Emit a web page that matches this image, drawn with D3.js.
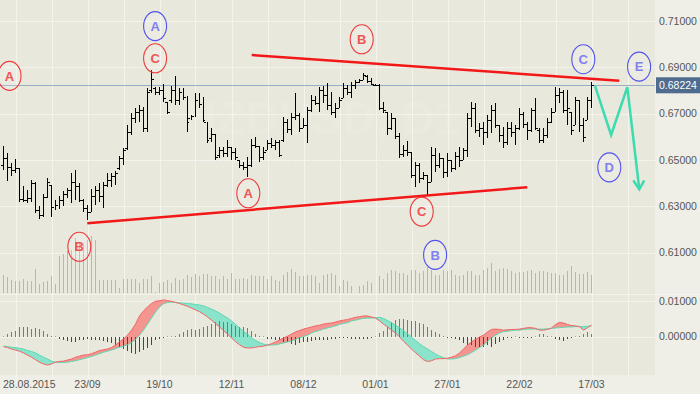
<!DOCTYPE html>
<html>
<head>
<meta charset="utf-8">
<script src="https://cdn.jsdelivr.net/npm/d3@7"></script>
<style>
  body { margin: 0; background: #f0efe7; }
  svg text { font-family: "Liberation Sans", Arial, sans-serif; }
</style>
</head>
<body>
<svg id="chart" width="700" height="394"></svg>
<script>
// NZDUSD daily, 25.08.2015 - 17.03.2016 (one entry per trading day)
var opens = [
  .6478,.6508,.6470,.6457,.6465,.6331,.6327,.6335,.6401,.6284,
  .6262,.6340,.6392,.6297,.6306,.6327,.6353,.6370,.6405,.6388,
  .6327,.6292,.6275,.6344,.6370,.6344,.6392,.6414,.6431,.6465,
  .6508,.6551,.6620,.6681,.6707,.6716,.6638,.6802,.6810,.6793,
  .6802,.6750,.6759,.6802,.6759,.6793,.6772,.6681,.6690,.6759,
  .6742,.6664,.6594,.6612,.6521,.6543,.6530,.6556,.6534,.6500,
  .6478,.6470,.6478,.6565,.6560,.6513,.6543,.6573,.6565,.6577,
  .6586,.6664,.6634,.6686,.6694,.6638,.6651,.6716,.6759,.6746,
  .6802,.6780,.6737,.6707,.6724,.6767,.6810,.6793,.6824,.6836,
  .6845,.6862,.6841,.6824,.6824,.6724,.6707,.6638,.6681,.6603,
  .6526,.6543,.6534,.6435,.6478,.6422,.6435,.6405,.6521,.6478,
  .6508,.6448,.6500,.6465,.6517,.6500,.6543,.6681,.6724,.6629,
  .6638,.6620,.6673,.6716,.6651,.6608,.6577,.6638,.6620,.6638,
  .6699,.6656,.6629,.6716,.6629,.6586,.6608,.6664,.6707,.6780,
  .6793,.6716,.6707,.6651,.6759,.6651,.6673,.6759
];
var highs = [
  .6560,.6530,.6487,.6504,.6465,.6388,.6370,.6414,.6405,.6301,
  .6353,.6422,.6392,.6327,.6344,.6366,.6379,.6444,.6457,.6401,
  .6331,.6306,.6375,.6388,.6401,.6405,.6444,.6444,.6453,.6517,
  .6551,.6651,.6703,.6724,.6737,.6729,.6810,.6888,.6815,.6815,
  .6828,.6750,.6819,.6862,.6810,.6810,.6776,.6694,.6789,.6789,
  .6772,.6664,.6638,.6612,.6556,.6556,.6586,.6556,.6551,.6500,
  .6491,.6513,.6590,.6599,.6560,.6556,.6586,.6594,.6586,.6586,
  .6686,.6677,.6703,.6789,.6703,.6681,.6729,.6780,.6776,.6815,
  .6819,.6832,.6793,.6746,.6772,.6832,.6824,.6836,.6845,.6849,
  .6875,.6866,.6853,.6828,.6828,.6750,.6707,.6703,.6681,.6616,
  .6565,.6582,.6534,.6491,.6487,.6448,.6435,.6556,.6551,.6530,
  .6508,.6530,.6500,.6534,.6556,.6551,.6703,.6750,.6746,.6660,
  .6664,.6694,.6737,.6746,.6651,.6643,.6664,.6664,.6651,.6724,
  .6707,.6664,.6724,.6767,.6638,.6638,.6681,.6724,.6815,.6810,
  .6802,.6802,.6707,.6772,.6759,.6681,.6772,.6836
];
var lows = [
  .6457,.6410,.6431,.6444,.6318,.6318,.6314,.6318,.6271,.6245,
  .6254,.6335,.6254,.6284,.6288,.6301,.6335,.6314,.6327,.6318,
  .6275,.6241,.6275,.6306,.6318,.6292,.6384,.6384,.6392,.6457,
  .6478,.6543,.6608,.6660,.6664,.6620,.6620,.6789,.6780,.6780,
  .6750,.6699,.6746,.6737,.6737,.6759,.6620,.6673,.6686,.6724,
  .6664,.6573,.6577,.6500,.6508,.6513,.6513,.6500,.6500,.6465,
  .6457,.6427,.6470,.6551,.6491,.6500,.6543,.6551,.6543,.6513,
  .6577,.6616,.6608,.6673,.6620,.6638,.6573,.6707,.6737,.6707,
  .6746,.6716,.6694,.6681,.6724,.6767,.6780,.6767,.6806,.6832,
  .6845,.6832,.6824,.6819,.6716,.6703,.6608,.6629,.6590,.6508,
  .6513,.6517,.6422,.6384,.6401,.6414,.6349,.6405,.6448,.6465,
  .6422,.6427,.6448,.6457,.6470,.6500,.6513,.6643,.6616,.6599,
  .6565,.6594,.6616,.6638,.6577,.6551,.6565,.6599,.6565,.6629,
  .6638,.6586,.6620,.6629,.6573,.6573,.6594,.6660,.6707,.6746,
  .6703,.6651,.6608,.6651,.6620,.6577,.6673,.6724
];
var closes = [
  .6508,.6470,.6457,.6465,.6331,.6327,.6335,.6401,.6284,.6262,
  .6340,.6405,.6297,.6306,.6327,.6353,.6370,.6405,.6388,.6327,
  .6292,.6275,.6344,.6370,.6344,.6392,.6414,.6431,.6444,.6508,
  .6543,.6620,.6681,.6707,.6716,.6638,.6793,.6849,.6793,.6802,
  .6767,.6707,.6802,.6759,.6793,.6772,.6664,.6690,.6759,.6742,
  .6673,.6586,.6612,.6513,.6543,.6530,.6556,.6534,.6513,.6478,
  .6470,.6478,.6565,.6560,.6513,.6534,.6573,.6565,.6577,.6521,
  .6664,.6634,.6686,.6694,.6638,.6651,.6716,.6759,.6746,.6802,
  .6780,.6737,.6707,.6724,.6759,.6810,.6793,.6824,.6836,.6845,
  .6866,.6841,.6828,.6824,.6724,.6716,.6638,.6681,.6603,.6526,
  .6543,.6534,.6435,.6478,.6422,.6435,.6405,.6521,.6478,.6508,
  .6448,.6500,.6465,.6517,.6500,.6543,.6681,.6724,.6629,.6638,
  .6620,.6673,.6716,.6651,.6608,.6577,.6638,.6620,.6638,.6699,
  .6656,.6629,.6716,.6638,.6586,.6608,.6664,.6707,.6780,.6793,
  .6716,.6724,.6629,.6759,.6651,.6599,.6759,.6822
];
var volumes = [
  177,160,133,117,117,140,117,123,243,93,
  107,123,173,93,367,393,417,430,550,507,
  500,533,573,527,133,133,133,133,127,50,
  140,140,140,140,100,140,140,173,7,100,
  107,133,100,150,133,140,183,160,193,167,
  193,193,167,173,140,167,140,200,140,140,
  150,140,183,173,167,167,140,167,133,123,
  183,207,240,207,167,167,183,183,167,100,
  183,193,200,177,73,127,117,67,3,67,
  83,117,100,3,167,143,200,227,217,200,
  200,183,227,233,200,217,260,227,183,183,
  227,217,233,183,167,183,217,217,183,183,
  233,250,300,217,240,250,240,217,200,207,
  207,217,227,200,217,217,207,200,200,183,
  183,217,273,207,193,193,207,183
];
var macdLine = [
  -0.0028,-0.0031,-0.0035,-0.0038,-0.0041,-0.0046,-0.0052,-0.0058,-0.0065,-0.0072,
  -0.0077,-0.0080,-0.0077,-0.0072,-0.0070,-0.0069,-0.0066,-0.0063,-0.0058,-0.0055,
  -0.0052,-0.0051,-0.0048,-0.0044,-0.0039,-0.0037,-0.0035,-0.0031,-0.0024,-0.0015,
  -0.0007,0.0004,0.0018,0.0035,0.0058,0.0072,0.0083,0.0093,0.0099,0.0101,
  0.0103,0.0101,0.0099,0.0096,0.0093,0.0089,0.0085,0.0080,0.0075,0.0070,
  0.0063,0.0055,0.0046,0.0037,0.0027,0.0017,0.0007,-0.0004,-0.0014,-0.0023,
  -0.0030,-0.0032,-0.0032,-0.0030,-0.0028,-0.0027,-0.0024,-0.0020,-0.0015,-0.0010,
  -0.0004,0.0001,0.0007,0.0013,0.0017,0.0021,0.0024,0.0027,0.0030,0.0032,
  0.0035,0.0037,0.0038,0.0041,0.0044,0.0046,0.0048,0.0051,0.0054,0.0056,
  0.0058,0.0058,0.0055,0.0052,0.0044,0.0035,0.0027,0.0018,0.0010,-0.0001,
  -0.0013,-0.0024,-0.0035,-0.0045,-0.0055,-0.0065,-0.0070,-0.0068,-0.0063,-0.0062,
  -0.0062,-0.0061,-0.0058,-0.0054,-0.0046,-0.0035,-0.0024,-0.0015,-0.0008,-0.0001,
  0.0004,0.0013,0.0020,0.0021,0.0020,0.0018,0.0019,0.0020,0.0020,0.0021,
  0.0023,0.0025,0.0025,0.0023,0.0018,0.0018,0.0020,0.0024,0.0034,0.0040,
  0.0038,0.0034,0.0031,0.0030,0.0028,0.0018,0.0025,0.0032
];
var signalLine = [
  -0.0027,-0.0028,-0.0030,-0.0031,-0.0033,-0.0035,-0.0039,-0.0042,-0.0046,-0.0052,
  -0.0058,-0.0063,-0.0069,-0.0072,-0.0073,-0.0073,-0.0072,-0.0070,-0.0068,-0.0065,
  -0.0062,-0.0059,-0.0056,-0.0052,-0.0048,-0.0044,-0.0041,-0.0038,-0.0034,-0.0030,
  -0.0027,-0.0023,-0.0017,-0.0008,0.0004,0.0018,0.0035,0.0052,0.0069,0.0083,
  0.0092,0.0096,0.0097,0.0096,0.0095,0.0094,0.0093,0.0092,0.0090,0.0089,
  0.0086,0.0082,0.0077,0.0072,0.0066,0.0059,0.0052,0.0044,0.0034,0.0024,
  0.0015,0.0007,-0.0003,-0.0011,-0.0017,-0.0021,-0.0024,-0.0024,-0.0023,-0.0021,
  -0.0018,-0.0015,-0.0013,-0.0008,-0.0004,0.0000,0.0004,0.0010,0.0014,0.0017,
  0.0021,0.0024,0.0027,0.0030,0.0034,0.0037,0.0039,0.0044,0.0046,0.0049,
  0.0051,0.0052,0.0052,0.0053,0.0054,0.0051,0.0045,0.0039,0.0032,0.0025,
  0.0017,0.0008,-0.0001,-0.0011,-0.0020,-0.0028,-0.0035,-0.0042,-0.0049,-0.0055,
  -0.0059,-0.0063,-0.0063,-0.0062,-0.0059,-0.0055,-0.0051,-0.0045,-0.0038,-0.0031,
  -0.0024,-0.0014,-0.0004,0.0004,0.0010,0.0014,0.0015,0.0017,0.0018,0.0018,
  0.0020,0.0021,0.0021,0.0021,0.0021,0.0021,0.0022,0.0023,0.0024,0.0025,
  0.0026,0.0027,0.0027,0.0028,0.0028,0.0028,0.0029,0.0030
];
var histogram = [
  0,0.0006,0.0012,0.0017,0.0026,0.0028,0.0026,0.0022,0.0023,0.0022,
  0.0017,0.0006,0.0002,0,-0.0006,-0.0009,-0.0013,-0.0016,-0.0014,-0.0011,
  -0.0009,-0.0008,-0.0009,-0.0011,-0.0011,-0.0013,-0.0016,-0.0019,-0.0025,-0.0030,
  -0.0035,-0.0041,-0.0047,-0.0049,-0.0044,-0.0039,-0.0032,-0.0025,-0.0011,-0.0006,
  -0.0002,0,0,0.0001,0.0006,0.0012,0.0019,0.0022,0.0019,0.0022,
  0.0026,0.0031,0.0036,0.0040,0.0043,0.0042,0.0040,0.0036,0.0031,0.0028,
  0.0026,0.0025,0.0017,0.0008,0.0003,0,-0.0006,-0.0006,-0.0009,-0.0011,
  -0.0016,-0.0016,-0.0021,-0.0023,-0.0019,-0.0016,-0.0016,-0.0013,-0.0011,-0.0011,
  -0.0011,-0.0009,-0.0008,-0.0006,-0.0004,-0.0004,-0.0004,-0.0006,-0.0006,-0.0006,
  -0.0006,-0.0006,-0.0004,0,0.0009,0.0017,0.0028,0.0040,0.0047,0.0048,
  0.0048,0.0047,0.0045,0.0043,0.0037,0.0034,0.0026,0.0019,0.0012,0.0006,
  0.0002,-0.0001,-0.0004,-0.0006,-0.0011,-0.0019,-0.0025,-0.0025,-0.0030,-0.0030,
  -0.0028,-0.0025,-0.0028,-0.0021,-0.0016,-0.0009,-0.0004,-0.0002,0,-0.0001,
  -0.0001,-0.0002,-0.0004,0,0.0006,0.0006,0.0003,0,-0.0006,-0.0011,
  -0.0013,-0.0006,-0.0002,0,0.0003,0.0008,0.0012,0.0006
];

var priceTicks = [0.71, 0.69, 0.67, 0.65, 0.63, 0.61];
var macdTicks = [0.01, 0];
var dateLabels = ["28.08.2015", "23/09", "19/10", "12/11", "08/12", "01/01", "27/01", "22/02", "17/03"];
var dateLabelIdx = [3, 21, 39, 57, 75, 93, 111, 129, 147];
var lastPrice = 0.68224;

// hand drawn analysis: trend lines, wave labels, forecast path (bar index, price)
var trendLines = [
  [[62.05, 0.6953], [153.95, 0.6842]],
  [[20.95, 0.6227], [130.95, 0.6382]]
];
var forecastPath = [[147.9, 0.6819], [151.9, 0.6608], [155.95, 0.6814], [158.95, 0.6373]];
var waveIdx   = [1.5, 37.9, 37.9, 89.55, 61.2, 104.55, 144.95, 158.9, 151.45, 18.95, 107.9];
var wavePrice = [0.6863, 0.7078, 0.6939, 0.7021, 0.6356, 0.6277, 0.6935, 0.6903, 0.6468, 0.6125, 0.6090];
var waveText  = ["A", "A", "C", "B", "A", "C", "C", "E", "D", "B", "B"];
var waveDegree = ["minor", "major", "minor", "minor", "minor", "minor", "major", "major", "major", "minor", "major"];

var svg = d3.select("#chart");
var plotW = 655, mainBottom = 294, macdTop = 296, macdBottom = 375;

var x = d3.scaleLinear().domain([-0.875, 162.875]).range([0, plotW]);
var y = d3.scaleLinear().domain([0.59212, 0.71907]).range([mainBottom, 0]);
var yVol = d3.scaleLinear().domain([0, 600]).range([293, 233]);
var yMacd = d3.scaleLinear().domain([-0.0108, 0.0114]).range([macdBottom, macdTop]);
var px = function(v) { return Math.round(v) + 0.5; };

// background
svg.append("rect").attr("width", 700).attr("height", 394).attr("fill", "#f0efe7");
svg.append("rect").attr("width", plotW).attr("height", macdBottom).attr("fill", "#e9e8dc");

// vertical grid every 9 bars
var grid = svg.append("g").attr("stroke", "#f4f4ee").attr("stroke-width", 1).attr("shape-rendering", "crispEdges");
grid.selectAll("line.v").data(d3.range(3, 163, 9)).enter().append("line")
    .attr("x1", function(d) { return px(x(d)); }).attr("x2", function(d) { return px(x(d)); })
    .attr("y1", 0).attr("y2", macdBottom + 4);
grid.selectAll("line.h").data(priceTicks).enter().append("line")
    .attr("x1", 0).attr("x2", plotW)
    .attr("y1", function(d) { return px(y(d)); }).attr("y2", function(d) { return px(y(d)); });
grid.selectAll("line.m").data(macdTicks).enter().append("line")
    .attr("x1", 0).attr("x2", plotW)
    .attr("y1", function(d) { return px(yMacd(d)); }).attr("y2", function(d) { return px(yMacd(d)); });
grid.append("line").attr("x1", 0).attr("x2", 700).attr("y1", mainBottom + 0.5).attr("y2", mainBottom + 0.5);

// faint symbol watermark
svg.append("text").attr("x", 322).attr("y", 134).attr("text-anchor", "middle")
    .attr("font-size", 46).attr("font-weight", "bold").attr("fill", "#ffffff").attr("fill-opacity", 0.1)
    .text("NZDUSD, D1");
svg.append("text").attr("x", 322).attr("y", 168).attr("text-anchor", "middle")
    .attr("font-size", 18).attr("fill", "#ffffff").attr("fill-opacity", 0.1)
    .text("New Zealand Dollar vs US Dollar");

var idx = d3.range(closes.length);

// volume
svg.append("g").attr("stroke", "#88c6e4").attr("shape-rendering", "crispEdges")
    .selectAll("line").data(idx).enter().append("line")
    .attr("x1", function(i) { return px(x(i) - 0.5); }).attr("x2", function(i) { return px(x(i) - 0.5); })
    .attr("y1", yVol(0)).attr("y2", function(i) { return yVol(volumes[i]); });

// current price line
svg.append("line").attr("x1", 0).attr("x2", plotW)
    .attr("y1", px(y(lastPrice))).attr("y2", px(y(lastPrice)))
    .attr("stroke", "#98adc6").attr("shape-rendering", "crispEdges");

// OHLC bars
var bars = svg.append("g").attr("stroke", "#000").attr("shape-rendering", "crispEdges");
bars.selectAll("line.hl").data(idx).enter().append("line")
    .attr("x1", function(i) { return px(x(i) - 0.5); }).attr("x2", function(i) { return px(x(i) - 0.5); })
    .attr("y1", function(i) { return y(highs[i]); }).attr("y2", function(i) { return y(lows[i]); });
bars.selectAll("line.o").data(idx).enter().append("line")
    .attr("x1", function(i) { return Math.round(x(i)) - 3; }).attr("x2", function(i) { return Math.round(x(i)) - 1; })
    .attr("y1", function(i) { return px(y(opens[i])); }).attr("y2", function(i) { return px(y(opens[i])); });
bars.selectAll("line.c").data(idx).enter().append("line")
    .attr("x1", function(i) { return Math.round(x(i)); }).attr("x2", function(i) { return Math.round(x(i)) + 2; })
    .attr("y1", function(i) { return px(y(closes[i])); }).attr("y2", function(i) { return px(y(closes[i])); });

// trend lines
svg.append("g").selectAll("line").data(trendLines).enter().append("line")
    .attr("x1", function(d) { return x(d[0][0]); }).attr("y1", function(d) { return y(d[0][1]); })
    .attr("x2", function(d) { return x(d[1][0]); }).attr("y2", function(d) { return y(d[1][1]); })
    .attr("stroke", "#f31818").attr("stroke-width", 2.5);

// forecast path with arrow
var fp = d3.line().x(function(d) { return x(d[0]); }).y(function(d) { return y(d[1]); });
svg.append("path").attr("d", fp(forecastPath)).attr("fill", "none")
    .attr("stroke", "#3ddbb0").attr("stroke-width", 2.5).attr("stroke-linejoin", "miter");
var tip = forecastPath[forecastPath.length - 1];
svg.append("path")
    .attr("d", "M" + (x(tip[0]) - 6) + "," + (y(tip[1]) - 9) + "L" + x(tip[0]) + "," + y(tip[1]) +
               "L" + (x(tip[0]) + 5) + "," + (y(tip[1]) - 9))
    .attr("fill", "none").attr("stroke", "#3ddbb0").attr("stroke-width", 2.5);

// wave labels
var waveColor = { minor: ["#ec3a3a", "#ee5555"], major: ["#5252ee", "#8080f2"] };
var waves = svg.append("g").selectAll("g").data(d3.range(waveText.length)).enter().append("g")
    .attr("transform", function(k) { return "translate(" + x(waveIdx[k]) + "," + y(wavePrice[k]) + ")"; });
waves.append("ellipse").attr("rx", 11.5).attr("ry", 14.5)
    .attr("fill", "#ffffff").attr("fill-opacity", 0.15)
    .attr("stroke", function(k) { return waveColor[waveDegree[k]][0]; }).attr("stroke-width", 1.1);
waves.append("text").attr("text-anchor", "middle").attr("dy", "0.36em")
    .attr("font-size", 13).attr("font-weight", "bold")
    .attr("fill", function(k) { return waveColor[waveDegree[k]][1]; })
    .text(function(k) { return waveText[k]; });

// MACD fill between lines, split at crossings
var pts = [];
idx.forEach(function(i) {
    var dNow = macdLine[i] - signalLine[i];
    pts.push({ t: i, m: macdLine[i], s: signalLine[i] });
    if (i < idx.length - 1) {
        var dNext = macdLine[i + 1] - signalLine[i + 1];
        if (dNow * dNext < 0) {
            var f = dNow / (dNow - dNext);
            var sv = signalLine[i] + f * (signalLine[i + 1] - signalLine[i]);
            pts.push({ t: i + f, m: sv, s: sv });
        }
    }
});
var bandUp = d3.area().x(function(d) { return x(d.t); })
    .y0(function(d) { return yMacd(d.s); }).y1(function(d) { return yMacd(Math.max(d.m, d.s)); });
var bandDn = d3.area().x(function(d) { return x(d.t); })
    .y0(function(d) { return yMacd(d.s); }).y1(function(d) { return yMacd(Math.min(d.m, d.s)); });
svg.append("path").attr("d", bandUp(pts)).attr("fill", "#f5958f");
svg.append("path").attr("d", bandDn(pts)).attr("fill", "#8ae3cb");

// histogram
svg.append("g").attr("shape-rendering", "crispEdges")
    .selectAll("line").data(idx).enter().append("line")
    .attr("x1", function(i) { return px(x(i) - 0.5); }).attr("x2", function(i) { return px(x(i) - 0.5); })
    .attr("y1", function(i) { return Math.round(yMacd(0)); })
    .attr("y2", function(i) {
        var y0 = Math.round(yMacd(0)), y1 = yMacd(histogram[i]);
        if (Math.abs(y1 - y0) < 1) return histogram[i] < 0 ? y0 + 1 : y0 - 1;
        return y1;
    })
    .attr("stroke", function(i) { return histogram[i] > 0 ? "#5c9a1c" : (histogram[i] < 0 ? "#4e4250" : "#a8a89c"); });

var ml = d3.line().x(function(d, i) { return x(i); });
svg.append("path").attr("d", ml.y(function(d) { return yMacd(d); })(signalLine))
    .attr("fill", "none").attr("stroke", "#5fd6b2").attr("stroke-width", 1);
svg.append("path").attr("d", ml.y(function(d) { return yMacd(d); })(macdLine))
    .attr("fill", "none").attr("stroke", "#ef6666").attr("stroke-width", 1);

// right axis labels
var fmt = d3.format(".5f");
var axisText = svg.append("g").attr("font-size", 10.5).attr("fill", "#555");
axisText.selectAll("text.p").data(priceTicks).enter().append("text")
    .attr("x", 659).attr("y", function(d) { return y(d); }).attr("dy", "0.36em").text(fmt);
axisText.selectAll("text.m").data(macdTicks).enter().append("text")
    .attr("x", 659).attr("y", function(d) { return yMacd(d); }).attr("dy", "0.36em").text(fmt);

// last price tag
svg.append("rect").attr("x", 656).attr("y", y(lastPrice) - 8).attr("width", 44).attr("height", 16)
    .attr("fill", "#4f6c8e");
svg.append("text").attr("x", 659).attr("y", y(lastPrice)).attr("dy", "0.36em")
    .attr("font-size", 10.5).attr("fill", "#fff").text(fmt(lastPrice));

// date labels
svg.append("g").attr("font-size", 10.5).attr("fill", "#555")
    .selectAll("text").data(d3.range(dateLabels.length)).enter().append("text")
    .attr("y", 388).attr("text-anchor", "middle")
    .text(function(k) { return dateLabels[k]; })
    .attr("x", function(k) {
        var w = this.getComputedTextLength();
        return Math.max(x(dateLabelIdx[k]), w / 2 + 3);
    });
</script>
</body>
</html>
